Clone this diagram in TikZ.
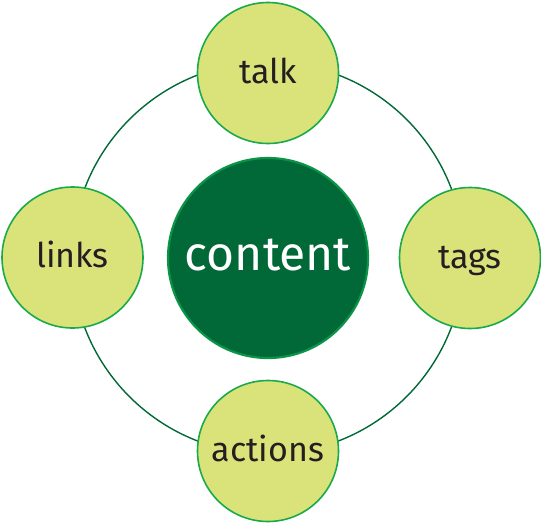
\documentclass[tikz,border=0pt]{standalone}
\usepackage{fontspec}
\setmainfont{Fira Sans}
\definecolor{lightfill}{HTML}{DAE27A}
\definecolor{lightedge}{HTML}{1BAA4B}
\definecolor{darkfill}{HTML}{006937}
\definecolor{darkedge}{HTML}{0B9447}
\definecolor{ringcol}{HTML}{006937}
\definecolor{txt}{HTML}{231F20}
\begin{document}
\begin{tikzpicture}[x=1pt,y=-1pt,
  satnode/.style={circle,draw=lightedge,fill=lightfill,line width=1.6pt,minimum size=141pt,inner sep=0pt,text height=20pt,text depth=0pt,text=txt,font=\fontsize{34}{40}\selectfont},
  hubnode/.style={circle,draw=darkedge,fill=darkfill,line width=2.2pt,minimum size=200pt,inner sep=0pt,text height=24pt,text depth=0pt,text=white,font=\fontsize{48}{56}\selectfont},
  ringline/.style={draw=ringcol,line width=1.4pt}]
\useasboundingbox (0,0) rectangle (541,523);
\coordinate (c) at (268,258);
\draw[ringline] (c) circle[radius=196];
\node[hubnode] (content) at (268,258) {content};
\node[satnode] (talk) at (268,73) {talk};
\node[satnode] (links) at (72.5,257.5) {links};
\node[satnode] (tags) at (470,258) {tags};
\node[satnode] (actions) at (268,451) {actions};
\end{tikzpicture}
\end{document}
